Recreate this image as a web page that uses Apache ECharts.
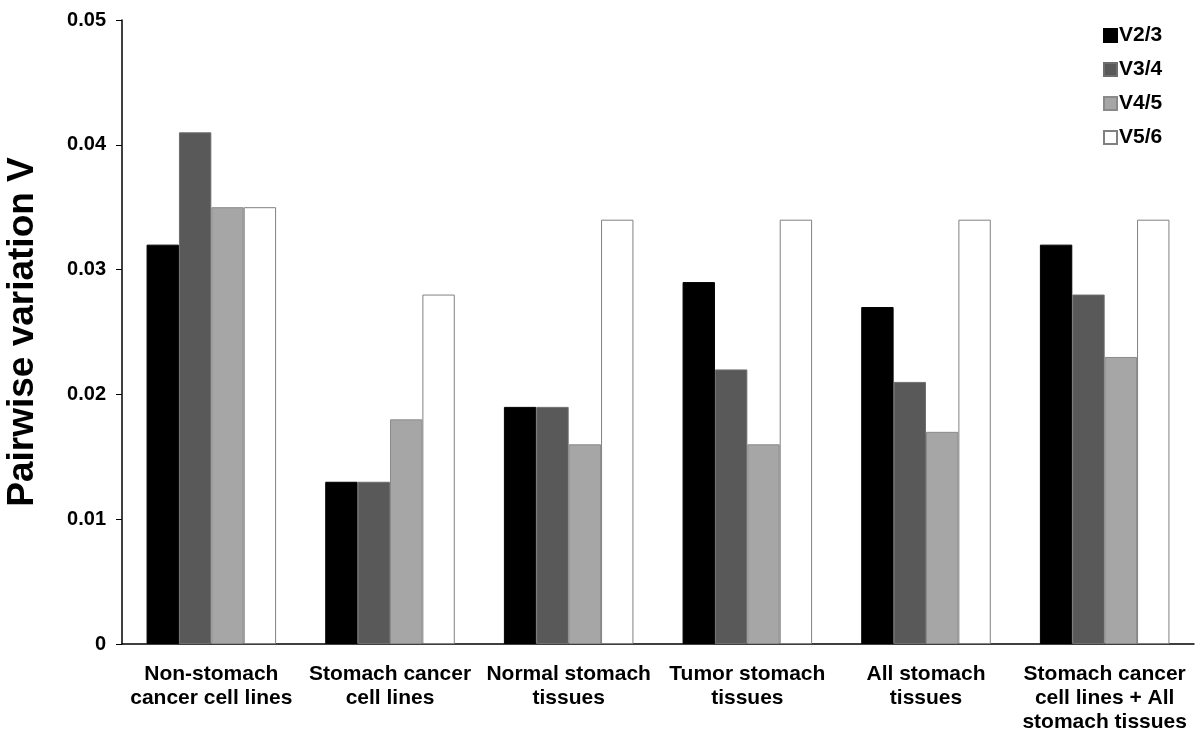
<!DOCTYPE html>
<html>
<head>
<meta charset="utf-8">
<script src="https://cdn.jsdelivr.net/npm/echarts@6/dist/echarts.min.js"></script>
<style>html,body{margin:0;padding:0;background:#fff;}#c{width:1200px;height:741px;}</style>
</head>
<body>
<div id="c"></div>
<script>
const categories = [
  "Non-stomach\ncancer cell lines",
  "Stomach cancer\ncell lines",
  "Normal stomach\ntissues",
  "Tumor stomach\ntissues",
  "All stomach\ntissues",
  "Stomach cancer\ncell lines + All\nstomach tissues"
];
const seriesNames = ["V2/3", "V3/4", "V4/5", "V5/6"];
const v23 = [0.032, 0.013, 0.019, 0.029, 0.027, 0.032];
const v34 = [0.041, 0.013, 0.019, 0.022, 0.021, 0.028];
const v45 = [0.035, 0.018, 0.016, 0.016, 0.017, 0.023];
const v56 = [0.035, 0.028, 0.034, 0.034, 0.034, 0.034];
const yTicks = [0, 0.01, 0.02, 0.03, 0.04, 0.05];

const seriesData = [v23, v34, v45, v56];
const fills = ["#000000", "#595959", "#a6a6a6", "#ffffff"];
const borders = ["#000000", "#6e6e6e", "#8a8a8a", "#808080"];
const font = "'Liberation Sans', Arial, sans-serif";

const chart = echarts.init(document.getElementById('c'));
chart.setOption({
  animation: false,
  backgroundColor: '#ffffff',
  grid: { left: 122, right: 6, top: 20, bottom: 97, containLabel: false, outerBoundsMode: 'none' },
  legend: {
    orient: 'vertical',
    left: 1098,
    top: 20,
    itemWidth: 13,
    itemHeight: 13,
    itemGap: 13,
    icon: 'rect',
    textStyle: { fontFamily: font, fontWeight: 'bold', fontSize: 21, color: '#000', padding: [0, 0, 0, -3] },
    data: seriesNames
  },
  xAxis: {
    type: 'category',
    data: categories,
    axisLine: { lineStyle: { color: '#000', width: 1.5 } },
    axisTick: { alignWithLabel: true, length: 6, lineStyle: { color: '#000' } },
    axisLabel: {
      interval: 0,
      margin: 18,
      fontFamily: font,
      fontWeight: 'bold',
      fontSize: 21,
      lineHeight: 24,
      color: '#000'
    }
  },
  yAxis: {
    type: 'value',
    min: 0,
    max: 0.05,
    interval: 0.01,
    name: 'Pairwise variation V',
    nameLocation: 'middle',
    nameGap: 81,
    nameTextStyle: { fontFamily: font, fontWeight: 'bold', fontSize: 37, color: '#000' },
    splitLine: { show: false },
    axisLine: { show: true, lineStyle: { color: '#000', width: 1.5 } },
    axisTick: { show: true, length: 6, lineStyle: { color: '#000' } },
    axisLabel: {
      margin: 16,
      fontFamily: font,
      fontWeight: 'bold',
      fontSize: 20,
      color: '#000',
      formatter: function (v) {
        const t = yTicks.find(x => Math.abs(x - v) < 1e-9);
        if (t === undefined) return '';
        return t === 0 ? '0' : t.toFixed(2);
      }
    }
  },
  series: seriesNames.map((n, i) => ({
    name: n,
    type: 'bar',
    data: seriesData[i],
    barGap: '0%',
    barCategoryGap: '27.5%',
    itemStyle: { color: fills[i], borderColor: borders[i], borderWidth: 1 }
  }))
});
</script>
</body>
</html>
